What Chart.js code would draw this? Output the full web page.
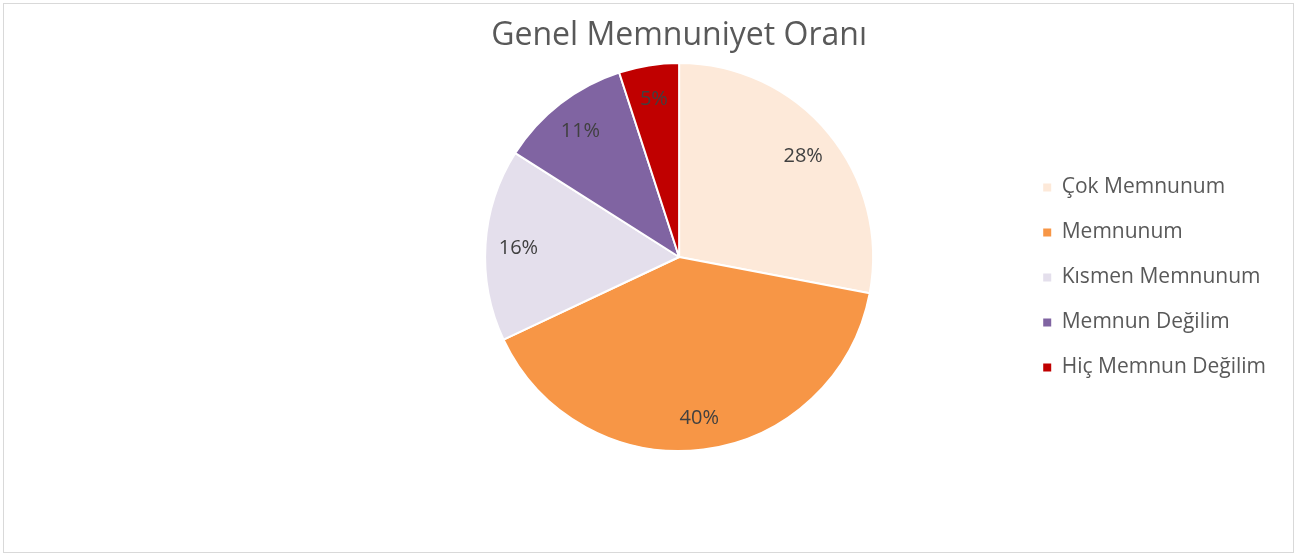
<!DOCTYPE html>
<html>
<head>
<meta charset="utf-8">
<script src="https://cdn.jsdelivr.net/npm/chart.js@4/dist/chart.umd.min.js"></script>
<style>
  html, body { margin: 0; padding: 0; background: #ffffff; }
  #frame { position: absolute; left: 3px; top: 3px; width: 1291px; height: 550px; box-sizing: border-box; border: 1px solid #d9d9d9; }
  #c { position: absolute; left: 0; top: 0; }
</style>
</head>
<body>
<div id="frame"></div>
<canvas id="c" width="1297" height="555"></canvas>
<script>
// ---- data ----
const chartTitle = 'Genel Memnuniyet Oranı';
const categories = ['Çok Memnunum', 'Memnunum', 'Kısmen Memnunum', 'Memnun Değilim', 'Hiç Memnun Değilim'];
const percentages = [28, 40, 16, 11, 5];
const sliceColors = ['#FDE9D9', '#F79646', '#E4DFEC', '#8064A2', '#C00000'];

// ---- layout helpers ----
const FONT = '"Open Sans", sans-serif';
const legendFontSize = 21;
const legendPad = 24;
const legendBoxX = 1043;
const pieCenterX = 679;
const chartRightEdge = legendBoxX - legendPad;
const measureCtx = document.createElement('canvas').getContext('2d');
measureCtx.font = legendFontSize + 'px ' + FONT;
const maxLabelW = Math.max(...categories.map(t => measureCtx.measureText(t).width));
const legendWidth = legendPad + 8 + legendFontSize / 2 + maxLabelW + 10;
const padRight = Math.floor(1297 - chartRightEdge - legendWidth);
const padLeft = 2 * pieCenterX - chartRightEdge;

const dataLabels = {
  id: 'dataLabels',
  afterDatasetsDraw(chart) {
    const ctx = chart.ctx;
    const meta = chart.getDatasetMeta(0);
    const size = 20;
    ctx.save();
    ctx.font = size + 'px ' + FONT;
    ctx.fillStyle = '#404040';
    ctx.textAlign = 'center';
    ctx.textBaseline = 'alphabetic';
    meta.data.forEach((arc, i) => {
      const p = arc.getProps(['x', 'y', 'startAngle', 'endAngle', 'outerRadius'], true);
      const mid = (p.startAngle + p.endAngle) / 2;
      const r = p.outerRadius * 0.83;
      ctx.fillText(percentages[i] + '%', p.x + Math.cos(mid) * r, p.y + Math.sin(mid) * r + size * 0.36);
    });
    ctx.restore();
  }
};

new Chart(document.getElementById('c'), {
  type: 'pie',
  data: {
    labels: categories,
    datasets: [{
      data: percentages,
      backgroundColor: sliceColors,
      borderColor: '#ffffff',
      borderWidth: 2,
      radius: 194,
      clip: false
    }]
  },
  options: {
    responsive: false,
    animation: false,
    layout: { padding: { left: padLeft, right: padRight, top: 0, bottom: 153 } },
    plugins: {
      tooltip: { enabled: false },
      title: {
        display: true,
        fullSize: false,
        text: chartTitle,
        color: '#595959',
        font: { family: FONT, size: 32, weight: 'normal', lineHeight: 1.2 },
        padding: { top: 17, bottom: 56.6 }
      },
      legend: {
        position: 'right',
        align: 'end',
        fullSize: false,
        labels: {
          boxWidth: 8,
          boxHeight: 8,
          padding: legendPad,
          color: '#595959',
          font: { family: FONT, size: legendFontSize },
          generateLabels(chart) {
            const items = Chart.overrides.pie.plugins.legend.labels.generateLabels(chart);
            items.forEach(it => { it.lineWidth = 0; it.strokeStyle = 'rgba(0,0,0,0)'; });
            return items;
          }
        }
      }
    }
  },
  plugins: [dataLabels]
});
</script>
</body>
</html>
